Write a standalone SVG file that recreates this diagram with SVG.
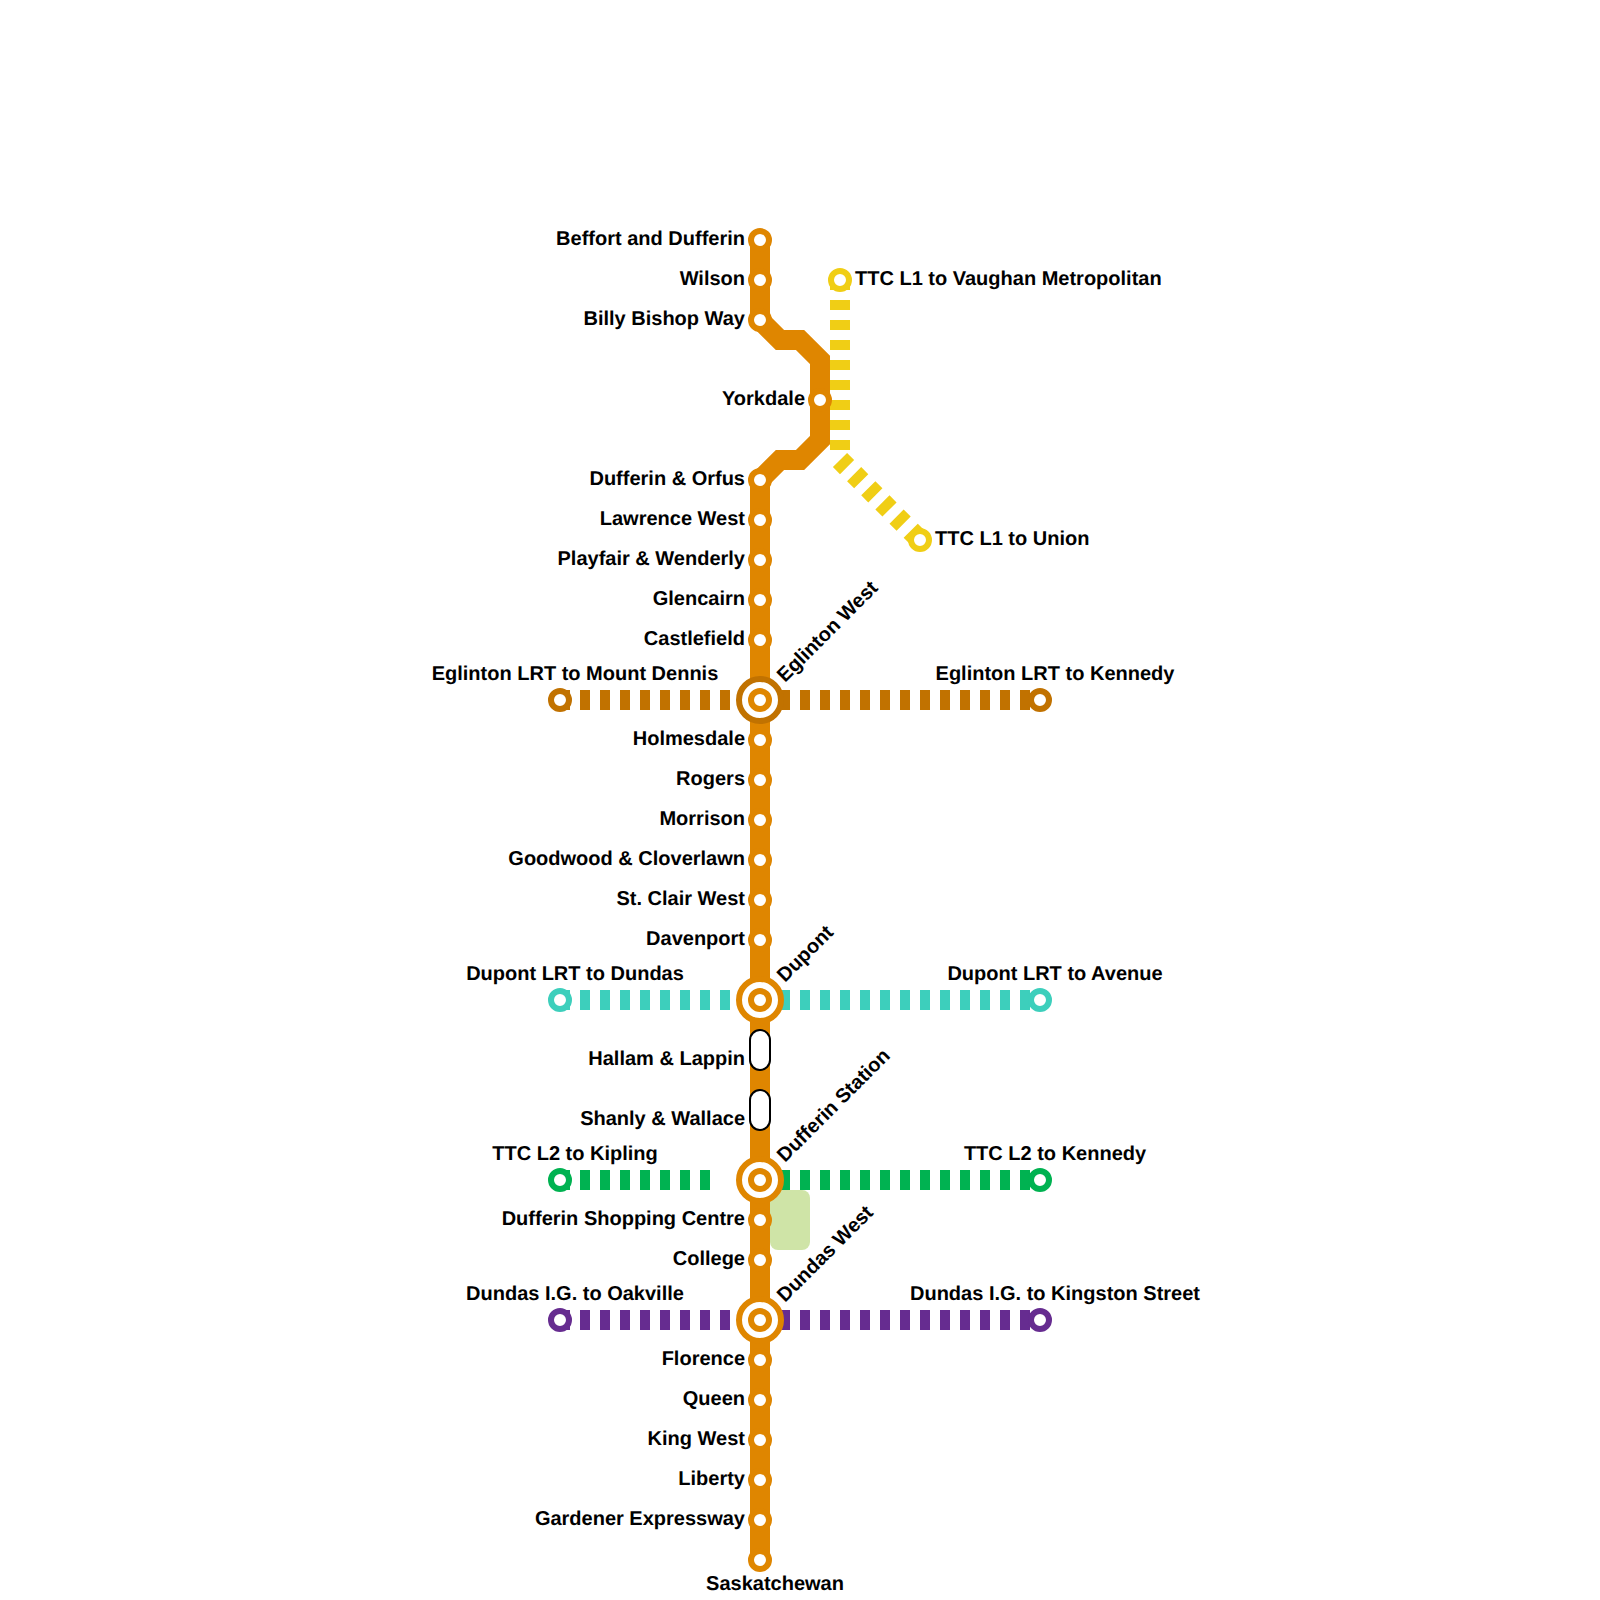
<svg xmlns="http://www.w3.org/2000/svg" width="1600" height="1600" viewBox="0 0 1600 1600">
<style>
text{font-family:"Liberation Sans",Arial,sans-serif;font-weight:700;font-size:20px;fill:#000;text-rendering:geometricPrecision}
.e{text-anchor:end}.m{text-anchor:middle}
.ln{fill:none;stroke-width:20;stroke-linejoin:miter;stroke-linecap:butt}
.d{stroke-dasharray:10 10}
.st{fill:#fff;stroke-width:6}
.o{stroke:#DF8600}.b{stroke:#C17200}.t{stroke:#3DCFBC}.g{stroke:#00B251}.p{stroke:#662C90}.y{stroke:#F0CE15}
.pill{fill:#fff;stroke:#000;stroke-width:2}
</style>
<rect id="park" x="770" y="1190" width="40" height="60" rx="8" fill="#CFE4A7"/>
<g id="connectors">
<path class="ln d y" d="M840 280V460L920 540"/>
<path class="ln d b" d="M560 700H1040"/>
<path class="ln d t" d="M560 1000H1040"/>
<path class="ln d g" d="M560 1180H720M760 1180H1040"/>
<path class="ln d p" d="M560 1320H1040"/>
<path class="ln o" d="M760 240V320L780 340H800L820 360V440L800 460H780L760 480V1560"/>
</g>
<g id="n-beffort"><circle class="st o" cx="760" cy="240" r="9"/><text class="e" x="745" y="245">Beffort and Dufferin</text></g>
<g id="n-wilson"><circle class="st o" cx="760" cy="280" r="9"/><text class="e" x="745" y="285">Wilson</text></g>
<g id="n-billy"><circle class="st o" cx="760" cy="320" r="9"/><text class="e" x="745" y="325">Billy Bishop Way</text></g>
<g id="n-yorkdale"><circle class="st o" cx="820" cy="400" r="9"/><text class="e" x="805" y="405">Yorkdale</text></g>
<g id="n-orfus"><circle class="st o" cx="760" cy="480" r="9"/><text class="e" x="745" y="485">Dufferin &amp; Orfus</text></g>
<g id="n-lawrence"><circle class="st o" cx="760" cy="520" r="9"/><text class="e" x="745" y="525">Lawrence West</text></g>
<g id="n-playfair"><circle class="st o" cx="760" cy="560" r="9"/><text class="e" x="745" y="565">Playfair &amp; Wenderly</text></g>
<g id="n-glencairn"><circle class="st o" cx="760" cy="600" r="9"/><text class="e" x="745" y="605">Glencairn</text></g>
<g id="n-castlefield"><circle class="st o" cx="760" cy="640" r="9"/><text class="e" x="745" y="645">Castlefield</text></g>
<g id="n-eglinton"><circle class="st b" cx="760" cy="700" r="21"/><circle class="st o" cx="760" cy="700" r="9"/><text transform="rotate(-45 785 683)" x="785" y="683">Eglinton West</text></g>
<g id="n-holmesdale"><circle class="st o" cx="760" cy="740" r="9"/><text class="e" x="745" y="745">Holmesdale</text></g>
<g id="n-rogers"><circle class="st o" cx="760" cy="780" r="9"/><text class="e" x="745" y="785">Rogers</text></g>
<g id="n-morrison"><circle class="st o" cx="760" cy="820" r="9"/><text class="e" x="745" y="825">Morrison</text></g>
<g id="n-goodwood"><circle class="st o" cx="760" cy="860" r="9"/><text class="e" x="745" y="865">Goodwood &amp; Cloverlawn</text></g>
<g id="n-stclair"><circle class="st o" cx="760" cy="900" r="9"/><text class="e" x="745" y="905">St. Clair West</text></g>
<g id="n-davenport"><circle class="st o" cx="760" cy="940" r="9"/><text class="e" x="745" y="945">Davenport</text></g>
<g id="n-dupont"><circle class="st o" cx="760" cy="1000" r="21"/><circle class="st o" cx="760" cy="1000" r="9"/><text transform="rotate(-45 785 983)" x="785" y="983">Dupont</text></g>
<g id="n-hallam"><rect class="pill" x="750" y="1030" width="20" height="40" rx="10"/><text class="e" x="745" y="1065">Hallam &amp; Lappin</text></g>
<g id="n-shanly"><rect class="pill" x="750" y="1090" width="20" height="40" rx="10"/><text class="e" x="745" y="1125">Shanly &amp; Wallace</text></g>
<g id="n-dufferin"><circle class="st o" cx="760" cy="1180" r="21"/><circle class="st o" cx="760" cy="1180" r="9"/><text transform="rotate(-45 785 1163)" x="785" y="1163">Dufferin Station</text></g>
<g id="n-shopping"><circle class="st o" cx="760" cy="1220" r="9"/><text class="e" x="745" y="1225">Dufferin Shopping Centre</text></g>
<g id="n-college"><circle class="st o" cx="760" cy="1260" r="9"/><text class="e" x="745" y="1265">College</text></g>
<g id="n-dundas"><circle class="st o" cx="760" cy="1320" r="21"/><circle class="st o" cx="760" cy="1320" r="9"/><text transform="rotate(-45 785 1303)" x="785" y="1303">Dundas West</text></g>
<g id="n-florence"><circle class="st o" cx="760" cy="1360" r="9"/><text class="e" x="745" y="1365">Florence</text></g>
<g id="n-queen"><circle class="st o" cx="760" cy="1400" r="9"/><text class="e" x="745" y="1405">Queen</text></g>
<g id="n-king"><circle class="st o" cx="760" cy="1440" r="9"/><text class="e" x="745" y="1445">King West</text></g>
<g id="n-liberty"><circle class="st o" cx="760" cy="1480" r="9"/><text class="e" x="745" y="1485">Liberty</text></g>
<g id="n-gardener"><circle class="st o" cx="760" cy="1520" r="9"/><text class="e" x="745" y="1525">Gardener Expressway</text></g>
<g id="n-sask"><circle class="st o" cx="760" cy="1560" r="9"/><text class="m" x="775" y="1590">Saskatchewan</text></g>
<g id="t-vaughan"><circle class="st y" cx="840" cy="280" r="9"/><text x="855" y="285">TTC L1 to Vaughan Metropolitan</text></g>
<g id="t-union"><circle class="st y" cx="920" cy="540" r="9"/><text x="935" y="545">TTC L1 to Union</text></g>
<g id="t-mtdennis"><circle class="st b" cx="560" cy="700" r="9"/><text class="m" x="575" y="680">Eglinton LRT to Mount Dennis</text></g>
<g id="t-kennedy-e"><circle class="st b" cx="1040" cy="700" r="9"/><text class="m" x="1055" y="680">Eglinton LRT to Kennedy</text></g>
<g id="t-dupont-w"><circle class="st t" cx="560" cy="1000" r="9"/><text class="m" x="575" y="980">Dupont LRT to Dundas</text></g>
<g id="t-dupont-e"><circle class="st t" cx="1040" cy="1000" r="9"/><text class="m" x="1055" y="980">Dupont LRT to Avenue</text></g>
<g id="t-kipling"><circle class="st g" cx="560" cy="1180" r="9"/><text class="m" x="575" y="1160">TTC L2 to Kipling</text></g>
<g id="t-kennedy-g"><circle class="st g" cx="1040" cy="1180" r="9"/><text class="m" x="1055" y="1160">TTC L2 to Kennedy</text></g>
<g id="t-oakville"><circle class="st p" cx="560" cy="1320" r="9"/><text class="m" x="575" y="1300">Dundas I.G. to Oakville</text></g>
<g id="t-kingston"><circle class="st p" cx="1040" cy="1320" r="9"/><text class="m" x="1055" y="1300">Dundas I.G. to Kingston Street</text></g>
</svg>
